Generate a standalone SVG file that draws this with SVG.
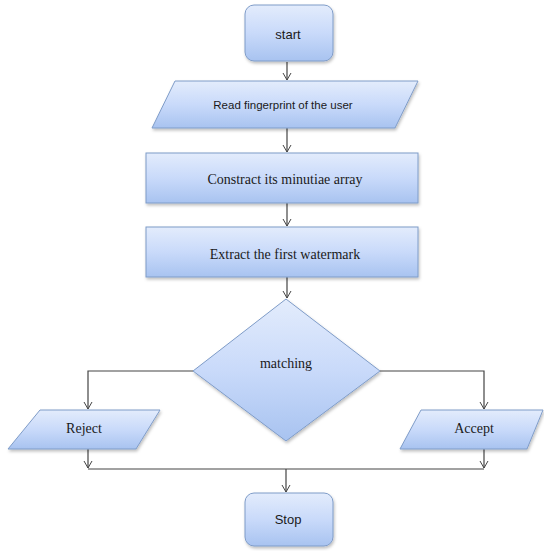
<svg xmlns="http://www.w3.org/2000/svg" width="544" height="551" viewBox="0 0 544 551">
<defs>
<linearGradient id="g" x1="0" y1="0" x2="0" y2="1">
<stop offset="0" stop-color="#e3ecfc"/>
<stop offset="0.5" stop-color="#c9dafa"/>
<stop offset="1" stop-color="#a8c3f0"/>
</linearGradient>
<marker id="a" markerWidth="10" markerHeight="10" refX="8" refY="5" orient="auto" markerUnits="userSpaceOnUse">
<path d="M1,1 L8,5 L1,9" fill="none" stroke="#444" stroke-width="1"/>
</marker>
<filter id="s" x="-10%" y="-10%" width="130%" height="140%">
<feDropShadow dx="1" dy="2" stdDeviation="1.5" flood-color="#000" flood-opacity="0.25"/>
</filter>
</defs>
<style>
.n{fill:url(#g);stroke:#7f9cc8;stroke-width:1;filter:url(#s)}
.c{fill:none;stroke:#444;stroke-width:1.2}
.sans{font-family:"Liberation Sans","DejaVu Sans",sans-serif;font-size:11.5px;fill:#1a1a1a;text-anchor:middle}
.big{font-size:13px}
.ser{font-family:"Liberation Serif","DejaVu Serif",serif;font-size:14px;fill:#1a1a1a;text-anchor:middle}
</style>
<g id="connectors">
<path class="c" d="M287,62 V80" marker-end="url(#a)"/>
<path class="c" d="M287,128 V152" marker-end="url(#a)"/>
<path class="c" d="M287,203 V226" marker-end="url(#a)"/>
<path class="c" d="M287,277 V298" marker-end="url(#a)"/>
<path class="c" d="M193,371 H88 V409" marker-end="url(#a)"/>
<path class="c" d="M380,371 H484 V409" marker-end="url(#a)"/>
<path class="c" d="M88,449 V468" marker-end="url(#a)"/>
<path class="c" d="M484,449 V468" marker-end="url(#a)"/>
<path class="c" d="M88,469 H484" stroke="#777"/>
<path class="c" d="M286,469 V492" marker-end="url(#a)"/>
</g>
<g id="start">
<rect class="n" x="245" y="5" width="88" height="56" rx="9"/>
<text class="sans big" x="288" y="39">start</text>
</g>
<g id="read">
<polygon class="n" points="175,81 418,81 395,128 152,128"/>
<text class="sans" x="283" y="109">Read fingerprint of the user</text>
</g>
<g id="construct">
<rect class="n" x="146" y="153" width="272" height="50"/>
<text class="ser" x="285" y="184">Constract its minutiae array</text>
</g>
<g id="extract">
<rect class="n" x="146" y="227" width="272" height="50"/>
<text class="ser" x="285" y="259">Extract the first watermark</text>
</g>
<g id="matching">
<polygon class="n" points="286,299 380,371 286,441 193,371"/>
<text class="ser" x="286" y="368">matching</text>
</g>
<g id="reject">
<polygon class="n" points="40,410 160,410 136,449 8,449"/>
<text class="ser" x="84" y="433">Reject</text>
</g>
<g id="accept">
<polygon class="n" points="421,410 543,410 527,449 400,449"/>
<text class="ser" x="474" y="433">Accept</text>
</g>
<g id="stop">
<rect class="n" x="245" y="493" width="88" height="53" rx="9"/>
<text class="sans big" x="288" y="524">Stop</text>
</g>
</svg>
